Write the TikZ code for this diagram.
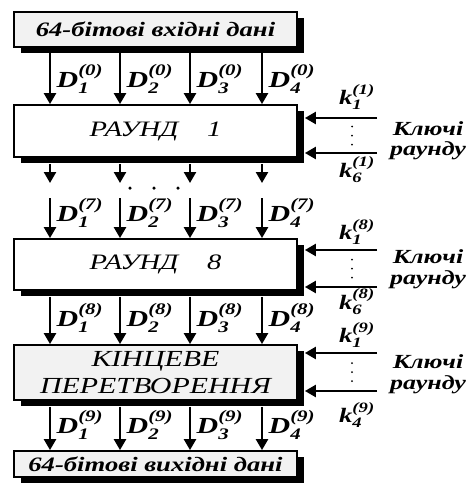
\documentclass[tikz,border=0pt]{standalone}
\usepackage{amsmath}
\usepackage{graphicx}
\usepackage{fontspec}
\setmainfont{Liberation Serif}
\usetikzlibrary{arrows.meta,shadows,calc}
\newcommand{\bi}[1]{\textbf{\textit{#1}}}
\newcommand{\wide}[1]{\scalebox{1.3}[1]{#1}}
\newcommand{\DD}[2]{\wide{$\bi{D}_{\bi{#1}}^{\bi{(#2)}}$}}
\newcommand{\KK}[2]{\wide{$\bi{k}_{\bi{#1}}^{\bi{(#2)}}$}}
\begin{document}
\begin{tikzpicture}[x=1pt,y=-1pt,
  box/.style={draw,line width=1.8pt,minimum width=283pt,inner sep=0pt,
    drop shadow={shadow xshift=7pt,shadow yshift=-6pt,fill=black,opacity=1}},
  grey/.style={fill=black!5},
  white/.style={fill=white},
  arr/.style={line width=2.4pt,-{Triangle[width=12pt,length=11pt]}},
  dlab/.style={font=\fontsize{23}{25}\selectfont,inner sep=0pt},
  klab/.style={font=\fontsize{20.5}{22}\selectfont,inner sep=0pt},
  key/.style={font=\fontsize{20}{22}\selectfont\bfseries\itshape,inner sep=0pt},
  dot/.style={circle,fill=black,inner sep=0pt,minimum size=3pt}]
\useasboundingbox (0,0) rectangle (471,493);
% column coordinates
\coordinate (c1) at (50,0);
\coordinate (c2) at (120,0);
\coordinate (c3) at (190,0);
\coordinate (c4) at (262,0);
% boxes
\node[box,grey,minimum height=35pt,font=\fontsize{20.5}{22}\selectfont\bfseries\itshape] (top) at (155.5,29.5) {\wide{64-бітові вхідні дані}};
\node[box,white,minimum height=52pt,font=\fontsize{22}{24}\selectfont\itshape] (r1) at (155.5,131) {\wide{РАУНД\quad 1}};
\node[box,white,minimum height=51pt,font=\fontsize{22}{24}\selectfont\itshape] (r8) at (155.5,264.5) {\wide{РАУНД\quad 8}};
\node[box,grey,minimum height=55pt,font=\fontsize{23}{27}\selectfont\itshape,align=center] (fin) at (155.5,372.5) {\wide{КІНЦЕВЕ}\\\wide{ПЕРЕТВОРЕННЯ}};
\node[box,grey,minimum height=26pt,font=\fontsize{20.5}{22}\selectfont\bfseries\itshape] (bot) at (155.5,464) {\wide{64-бітові вихідні дані}};
% vertical arrows
\foreach \c in {c1,c2,c3,c4}{
  \draw[arr] (top.south -| \c) -- (r1.north -| \c);
  \coordinate (e\c) at ($(\c)+(0,183)$);
  \coordinate (s\c) at ($(\c)+(0,198)$);
  \draw[arr] ($(r1.south -| \c)+(0,6)$) -- (e\c);
  \draw[arr] (s\c) -- (r8.north -| \c);
  \draw[arr] ($(r8.south -| \c)+(0,6)$) -- (fin.north -| \c);
  \draw[arr] ($(fin.south -| \c)+(0,6)$) -- (bot.north -| \c);
}
% horizontal dots
\node[dot,minimum size=3.5pt] (hd1) at (130,188) {};
\node[dot,minimum size=3.5pt] (hd2) at (154,188) {};
\node[dot,minimum size=3.5pt] (hd3) at (178,188) {};
% D labels
\foreach \i/\c in {1/c1,2/c2,3/c3,4/c4}{
  \node[dlab] at ($(\c)+(30,79)$) {\DD{\i}{0}};
  \node[dlab] at ($(\c)+(30,213)$) {\DD{\i}{7}};
  \node[dlab] at ($(\c)+(30,318)$) {\DD{\i}{8}};
  \node[dlab] at ($(\c)+(30,425)$) {\DD{\i}{9}};
}
% keys
\foreach \b/\ya/\yb/\yl/\yh/\yk/\yr/\r/\n in {r1/118/153/97/170/129/151/1/6, r8/250/287/232/302/257/280/8/6, fin/353/391/335/415/362/385/9/4}{
  \coordinate (ka\b) at (377,\ya);
  \coordinate (kb\b) at (377,\yb);
  \draw[arr] (ka\b) -- ($(\b.east |- ka\b)+(7,0)$);
  \draw[arr] (kb\b) -- ($(\b.east |- kb\b)+(7,0)$);
  \node[klab] at (357,\yl) {\KK{1}{\r}};
  \node[klab] at (357,\yh) {\KK{\n}{\r}};
  \node[key] at (428,\yk) {\wide{Ключі}};
  \node[key] at (428,\yr) {\wide{раунду}};
  \foreach \d in {-9,0,9}{
    \node[dot,minimum size=2pt] at ($(352,{(\ya+\yb)/2})+(0,\d)$) {};
  }
}
\end{tikzpicture}
\end{document}
